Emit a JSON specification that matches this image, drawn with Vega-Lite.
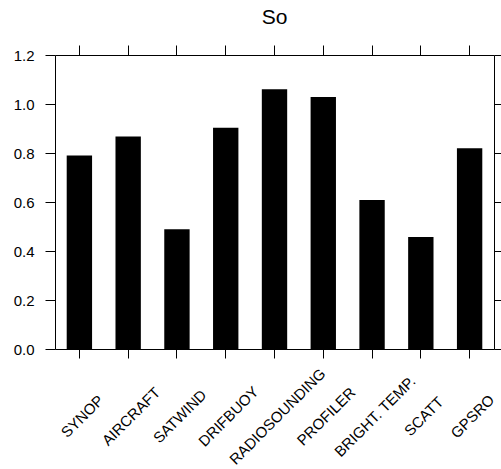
{
  "$schema": "https://vega.github.io/schema/vega-lite/v6.json",
  "width": 439,
  "height": 294,
  "autosize": {"type": "none"},
  "padding": {"left": 55, "top": 55, "right": 7, "bottom": 120},
  "background": "white",
  "title": {"text": "So", "fontSize": 21, "font": "Liberation Sans", "fontWeight": "normal", "color": "black", "frame": "group", "offset": 17},
  "config": {
    "view": {"stroke": "black", "strokeWidth": 1},
    "axis": {"domain": false, "grid": false, "tickColor": "black", "tickWidth": 1, "labelColor": "black", "labelFont": "Liberation Sans"}
  },
  "data": {
    "values": [
      {"obs": "SYNOP", "value": 0.79},
      {"obs": "AIRCRAFT", "value": 0.867},
      {"obs": "SATWIND", "value": 0.489},
      {"obs": "DRIFBUOY", "value": 0.903},
      {"obs": "RADIOSOUNDING", "value": 1.06},
      {"obs": "PROFILER", "value": 1.029},
      {"obs": "BRIGHT. TEMP.", "value": 0.608},
      {"obs": "SCATT", "value": 0.457},
      {"obs": "GPSRO", "value": 0.819}
    ]
  },
  "layer": [
    {
      "mark": {"type": "bar", "color": "black"},
      "encoding": {
        "x": {"field": "obs", "type": "nominal", "sort": null,
          "scale": {"paddingInner": 0.48, "paddingOuter": 0.24},
          "axis": {"orient": "bottom", "title": null, "labelAngle": -45, "labelAlign": "center", "labelBaseline": "middle", "labelPadding": 58, "labelOffset": 3, "tickSize": 9, "labelFontSize": 15, "labelOverlap": false, "labelBound": false}},
        "y": {"field": "value", "type": "quantitative",
          "scale": {"domain": [0, 1.2], "nice": false},
          "axis": {"orient": "left", "title": null, "values": [0, 0.2, 0.4, 0.6, 0.8, 1.0, 1.2], "format": ".1f", "tickSize": 10, "labelPadding": 11, "labelFontSize": 15}}
      }
    },
    {
      "mark": {"type": "bar", "opacity": 0},
      "encoding": {
        "x": {"field": "obs", "type": "nominal", "sort": null,
          "axis": {"orient": "top", "title": null, "labels": false, "tickSize": 10}},
        "y": {"field": "value", "type": "quantitative",
          "axis": {"orient": "right", "title": null, "labels": false, "values": [0, 0.2, 0.4, 0.6, 0.8, 1.0, 1.2], "tickSize": 10}}
      }
    }
  ],
  "resolve": {"axis": {"x": "independent", "y": "independent"}}
}
